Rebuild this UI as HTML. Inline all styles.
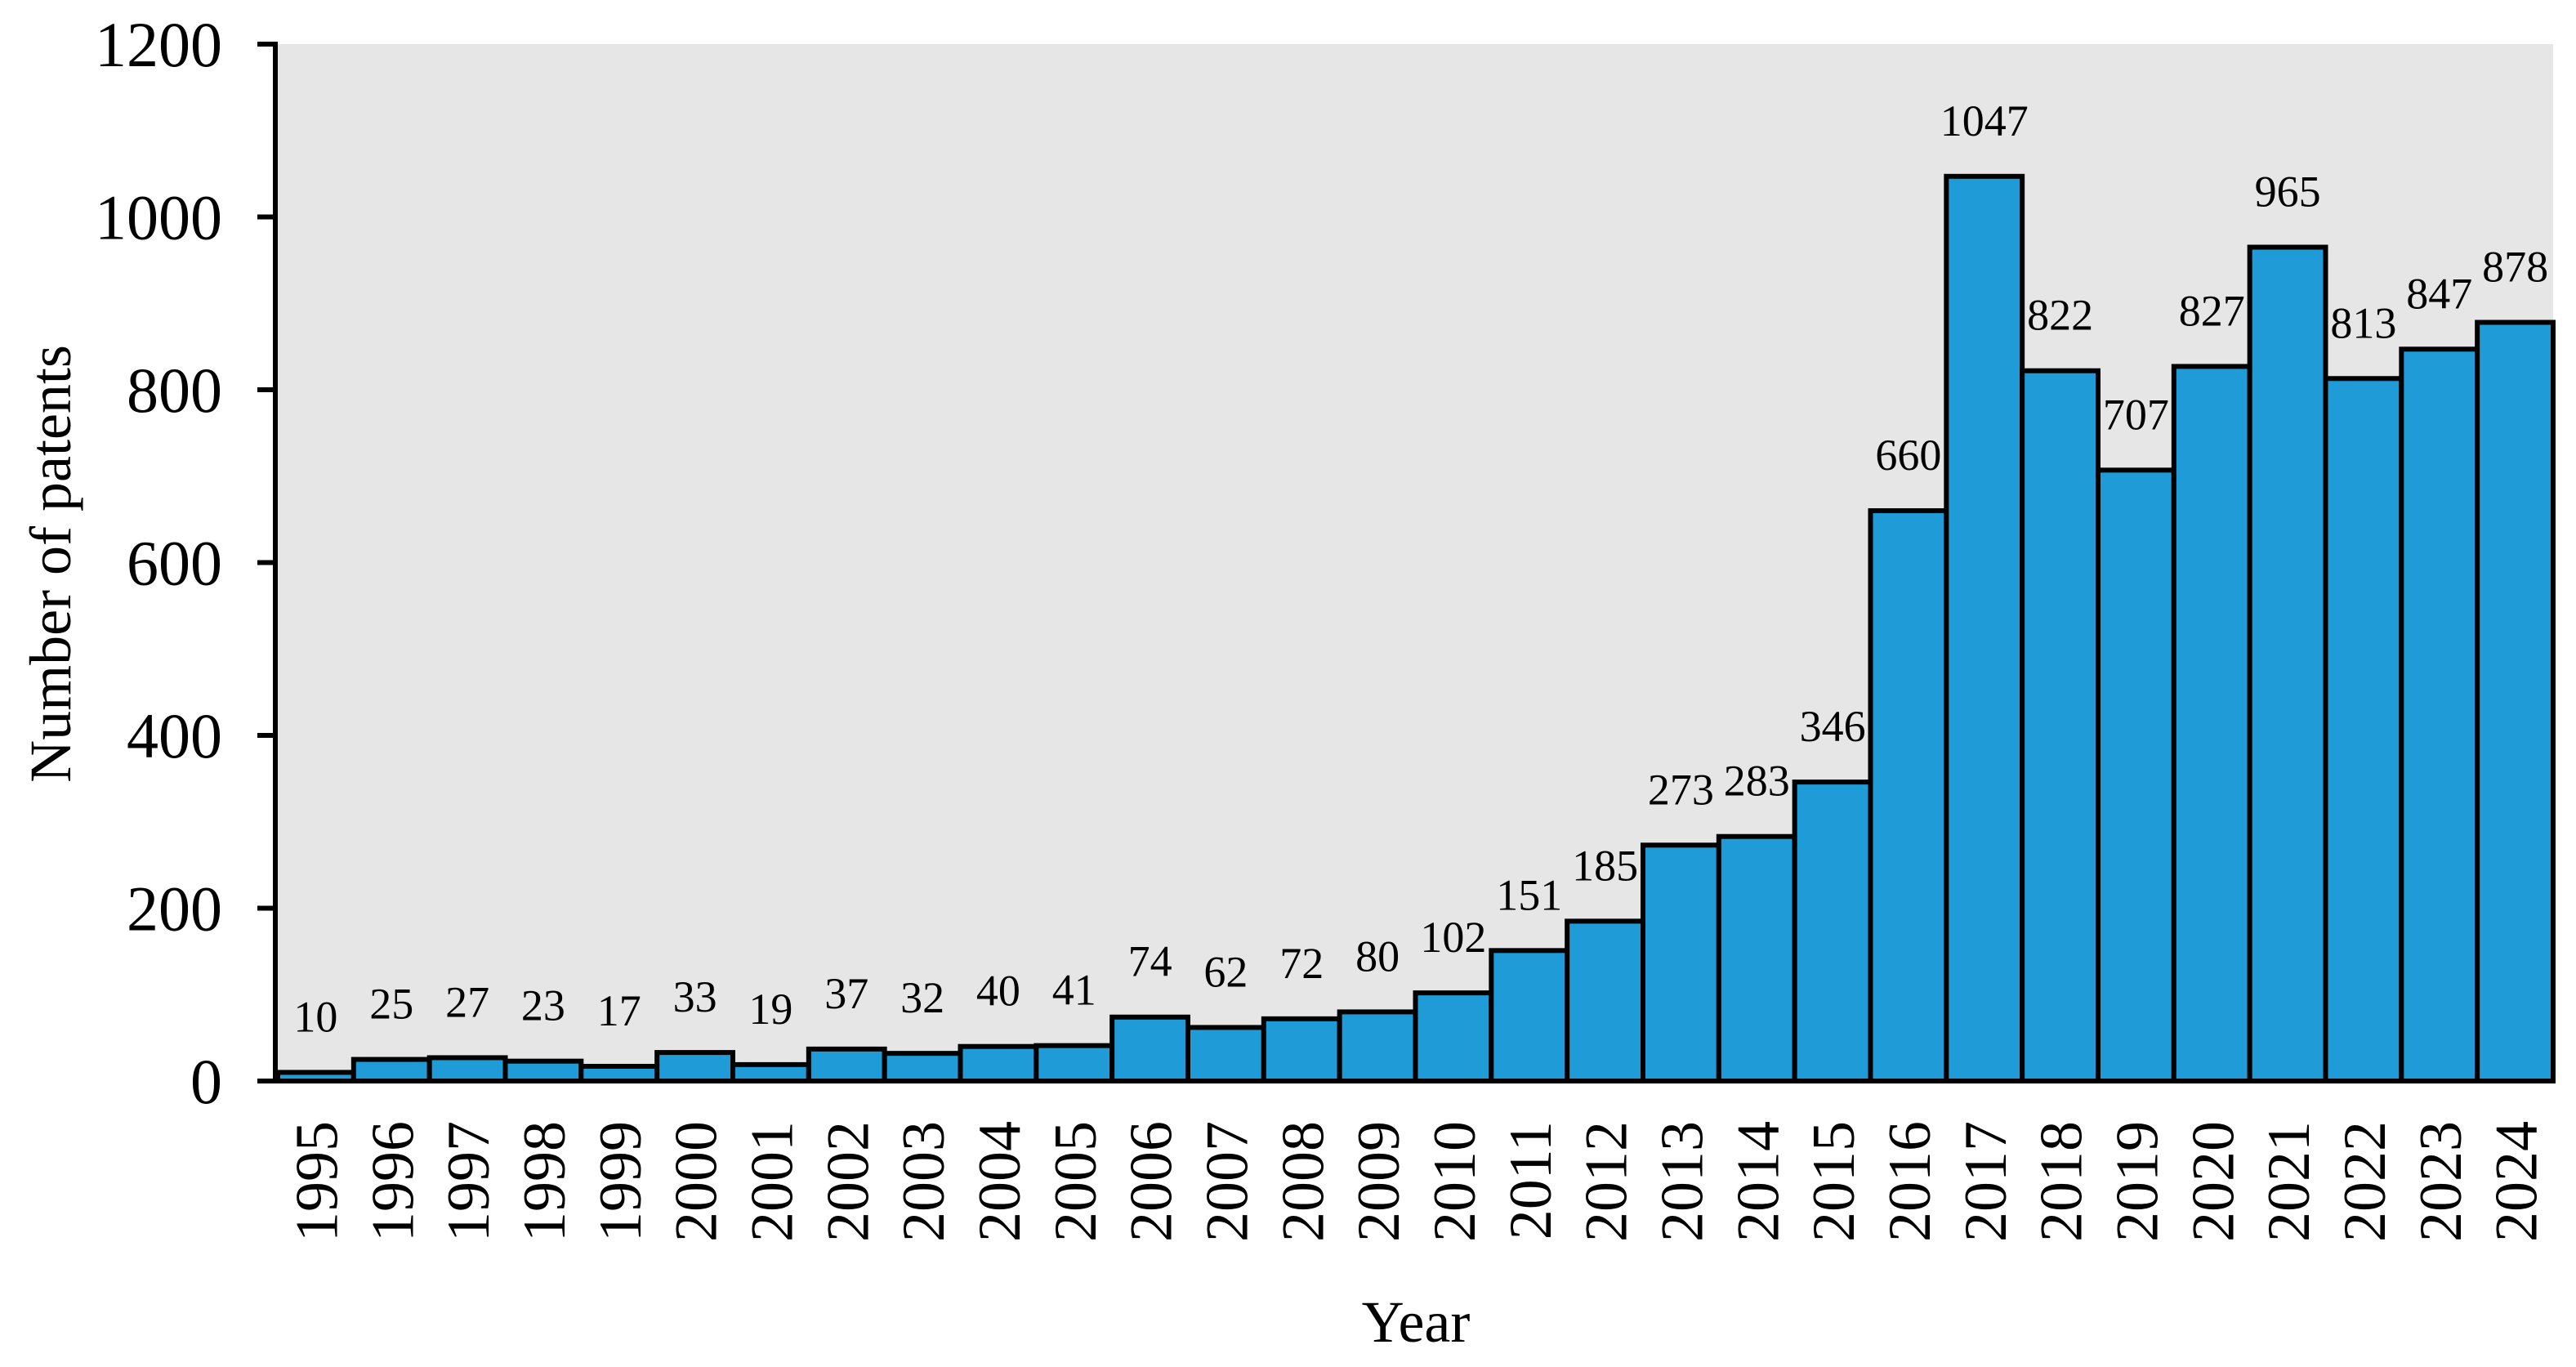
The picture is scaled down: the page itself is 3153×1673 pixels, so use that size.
<!DOCTYPE html>
<html><head><meta charset="utf-8"><style>
html,body{margin:0;padding:0;background:#fff}
svg{display:block;font-family:"Liberation Serif","Times New Roman",Times,serif}
</style></head><body>
<svg id="chart" width="3153" height="1673" viewBox="0 0 3153 1673" xmlns="http://www.w3.org/2000/svg">
<rect x="340" y="54" width="2785" height="1269" fill="#e6e6e6"/>
<g id="bars"></g>
<g id="labels"></g>
<g id="yticks"></g>
<g id="xticks"></g>
<line x1="337" y1="51" x2="337" y2="1326" stroke="#000" stroke-width="6"/>
<line x1="315" y1="1323" x2="3128" y2="1323" stroke="#000" stroke-width="6"/>
<text transform="translate(86,690) rotate(-90)" text-anchor="middle" font-size="72">Number of patents</text>
<text x="1733" y="1642" text-anchor="middle" font-size="72">Year</text>
</svg>
<script>
const years = [1995,1996,1997,1998,1999,2000,2001,2002,2003,2004,2005,2006,2007,2008,2009,2010,2011,2012,2013,2014,2015,2016,2017,2018,2019,2020,2021,2022,2023,2024];
const counts = [10,25,27,23,17,33,19,37,32,40,41,74,62,72,80,102,151,185,273,283,346,660,1047,822,707,827,965,813,847,878];
const yTicks = [0,200,400,600,800,1000,1200];

const NS = "http://www.w3.org/2000/svg";
const x0 = 340, x1 = 3125, yTop = 54, yBot = 1323, yMax = 1200;
const band = (x1 - x0) / years.length;
function xScale(i){ return x0 + i * band; }
function yScale(v){ return yBot - (v / yMax) * (yBot - yTop); }

const gb = document.getElementById('bars');
const gl = document.getElementById('labels');
const gx = document.getElementById('xticks');
const gy = document.getElementById('yticks');

counts.forEach((v, i) => {
  const r = document.createElementNS(NS, 'rect');
  r.setAttribute('x', xScale(i));
  r.setAttribute('y', yScale(v));
  r.setAttribute('width', band);
  r.setAttribute('height', yBot - yScale(v));
  r.setAttribute('fill', '#1f9bd7');
  r.setAttribute('stroke', '#000');
  r.setAttribute('stroke-width', '6');
  
  
  gb.appendChild(r);

  const t = document.createElementNS(NS, 'text');
  t.setAttribute('x', xScale(i) + band / 2);
  t.setAttribute('y', yScale(v) - 50);
  t.setAttribute('text-anchor', 'middle');
  t.setAttribute('font-size', '54');
  t.textContent = v;
  
  
  gl.appendChild(t);

  const yl = document.createElementNS(NS, 'text');
  const cx = xScale(i) + band / 2 + 26;
  yl.setAttribute('transform', 'translate(' + cx + ',1372) rotate(-90)');
  yl.setAttribute('text-anchor', 'end');
  yl.setAttribute('font-size', '74');
  yl.textContent = years[i];
  
  
  gx.appendChild(yl);
});

yTicks.forEach(v => {
  const y = yScale(v);
  const l = document.createElementNS(NS, 'line');
  l.setAttribute('x1', 315); l.setAttribute('x2', 337);
  l.setAttribute('y1', y); l.setAttribute('y2', y);
  l.setAttribute('stroke', '#000'); l.setAttribute('stroke-width', '6');
  
  
  gy.appendChild(l);
  const t = document.createElementNS(NS, 'text');
  t.setAttribute('x', 272);
  t.setAttribute('y', y + 27);
  t.setAttribute('text-anchor', 'end');
  t.setAttribute('font-size', '78');
  t.textContent = v;
  
  
  gy.appendChild(t);
});
</script>
</body></html>
